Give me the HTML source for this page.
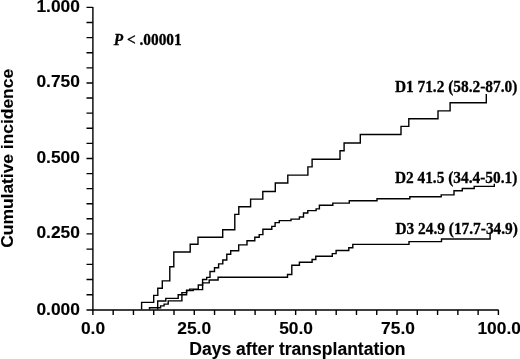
<!DOCTYPE html>
<html><head><meta charset="utf-8"><title>Cumulative incidence</title>
<style>
html,body{margin:0;padding:0;background:#fff;}
svg{display:block;}
.sans{font-family:"Liberation Sans",Arial,Helvetica,sans-serif;font-weight:bold;fill:#000;stroke:#000;stroke-width:0.12;}
.serif{font-family:"Liberation Serif","Times New Roman",Times,serif;font-weight:bold;fill:#000;stroke:#000;stroke-width:0.3;}
</style></head>
<body>
<svg width="520" height="359" viewBox="0 0 520 359">
<rect width="520" height="359" fill="#fff"/>
<g fill="none" stroke="#000" stroke-width="1.4" stroke-linecap="butt" stroke-linejoin="miter">
<path d="M92.9,7 V310.0 H498.6"/>
<path d="M86.5,310.00H92.9 M92.90,310.0V315.1 M86.5,294.78H92.9 M113.18,310.0V315.1 M86.5,279.56H92.9 M133.45,310.0V315.1 M86.5,264.34H92.9 M153.72,310.0V315.1 M86.5,249.12H92.9 M174.00,310.0V315.1 M86.5,233.90H92.9 M194.28,310.0V315.1 M86.5,218.82H92.9 M214.55,310.0V315.1 M86.5,203.74H92.9 M234.82,310.0V315.1 M86.5,188.66H92.9 M255.10,310.0V315.1 M86.5,173.58H92.9 M275.38,310.0V315.1 M86.5,158.50H92.9 M295.65,310.0V315.1 M86.5,143.39H92.9 M315.92,310.0V315.1 M86.5,128.28H92.9 M336.20,310.0V315.1 M86.5,113.17H92.9 M356.48,310.0V315.1 M86.5,98.06H92.9 M376.75,310.0V315.1 M86.5,82.95H92.9 M397.02,310.0V315.1 M86.5,67.84H92.9 M417.30,310.0V315.1 M86.5,52.73H92.9 M437.57,310.0V315.1 M86.5,37.62H92.9 M457.85,310.0V315.1 M86.5,22.51H92.9 M478.12,310.0V315.1 M86.5,7.40H92.9 M498.40,310.0V315.1"/>
<path d="M141.6,309.5 V302.4 H153.7 V295.4 H157.8 V288.2 H162.3 V280.9 H169.8 V266.8 H173.8 V252.0 H190.2 V244.3 H198.0 V237.3 H222.7 V229.8 H234.8 V214.4 H238.8 V206.8 H250.6 V199.1 H262.8 V191.5 H275.3 V183.0 H287.8 V175.1 H307.9 V166.9 H312.1 V159.3 H340.0 V150.7 H344.1 V143.0 H360.3 V134.5 H401.0 V126.4 H408.8 V118.7 H438.0 V110.9 H450.1 V102.7 H486.3 V93.9"/>
<path d="M149.5,309.5 V307.7 H160.6 V305.9 H164.1 V304.1 H168.2 V300.9 H181.9 V292.6 H186.6 V290.2 H189.7 V289.1 H198.3 V285.0 H202.6 V279.5 H206.7 V277.4 H210.0 V271.5 H214.5 V267.7 H218.6 V263.9 H222.8 V260.0 H226.8 V254.2 H230.7 V250.7 H238.7 V244.9 H247.0 V240.8 H254.8 V237.2 H259.2 V234.6 H262.9 V229.2 H271.8 V226.4 H275.1 V222.6 H279.3 V220.6 H291.0 V219.1 H299.4 V217.0 H303.5 V213.0 H307.8 V210.6 H316.1 V208.9 H319.4 V205.3 H332.8 V203.1 H349.3 V200.8 H377.0 V198.8 H409.8 V196.8 H441.2 V194.9 H454.0 V190.7 H462.3 V188.5 H474.2 V186.4 H494.3 V183.8"/>
<path d="M157.7,309.5 V301.0 H165.8 V298.4 H178.2 V294.8 H186.6 V290.6 H193.2 V289.6 H202.6 V282.9 H209.2 V280.0 H218.1 V277.2 H287.5 V274.5 H291.8 V265.3 H299.4 V262.3 H312.1 V259.5 H315.8 V256.3 H332.3 V253.6 H336.1 V250.5 H348.8 V247.7 H352.8 V244.4 H409.0 V241.6 H441.5 V239.0 H490.1 V232.5"/>
</g>
<g class="sans" font-size="17.4" text-anchor="end">
<text x="79.95" y="12.4">1.000</text>
<text x="79.95" y="87.2">0.750</text>
<text x="79.95" y="163.4">0.500</text>
<text x="79.95" y="238.1">0.250</text>
<text x="79.95" y="314.8">0.000</text>
</g>
<g class="sans" font-size="17.4" text-anchor="middle">
<text x="93" y="334.15">0.0</text>
<text x="194.2" y="334.15">25.0</text>
<text x="296.1" y="334.15">50.0</text>
<text x="398" y="334.15">75.0</text>
<text x="499.2" y="334.15">100.0</text>
</g>
<text class="sans" font-size="17.55" x="189.3" y="355.1">Days after transplantation</text>
<text class="sans" font-size="17.4" transform="translate(13.3,247.7) rotate(-90)">Cumulative incidence</text>
<text class="serif" font-size="16" transform="translate(113.7,44.6) scale(0.96,1)"><tspan font-style="italic">P</tspan> &lt; .00001</text>
<text class="serif" font-size="16" transform="translate(394.9,92.1) scale(0.96,1)">D1 71.2 (58.2-87.0)</text>
<text class="serif" font-size="16" transform="translate(394.9,182.5) scale(0.96,1)">D2 41.5 (34.4-50.1)</text>
<text class="serif" font-size="16" transform="translate(395.5,234.1) scale(0.96,1)">D3 24.9 (17.7-34.9)</text>
</svg>
</body></html>
